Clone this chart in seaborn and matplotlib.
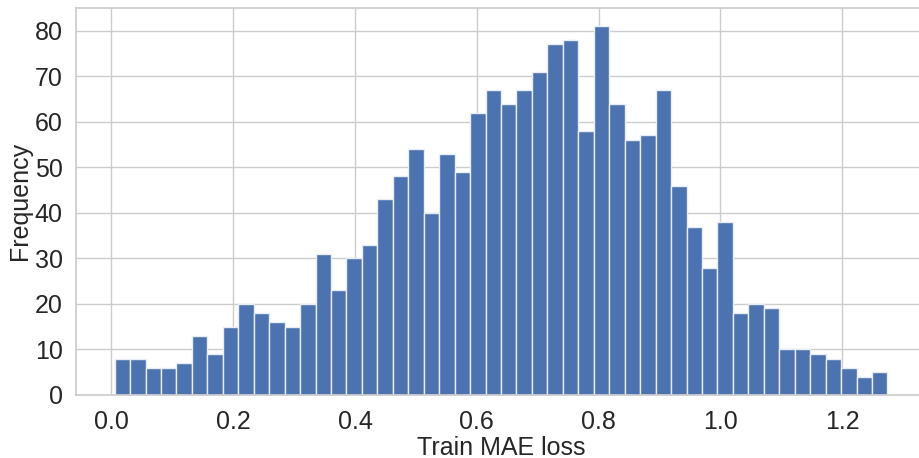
import numpy as np
import pandas as pd
import matplotlib
matplotlib.use("Agg")
import matplotlib.pyplot as plt
from matplotlib.ticker import MultipleLocator
import seaborn as sns

# Histogram of per-sample training MAE loss (50 equal-width bins)
counts = [8, 8, 6, 6, 7, 13, 9, 15, 20, 18,
          16, 15, 20, 31, 23, 30, 33, 43, 48, 54,
          40, 53, 49, 62, 67, 64, 67, 71, 77, 78,
          58, 81, 64, 56, 57, 67, 46, 37, 28, 38,
          18, 20, 19, 10, 10, 9, 8, 6, 4, 5]
loss_min = 0.0054
loss_max = 1.2742
x_ticks = [0.0, 0.2, 0.4, 0.6, 0.8, 1.0, 1.2]
y_step = 10
x_label = "Train MAE loss"
y_label = "Frequency"

edges = np.linspace(loss_min, loss_max, len(counts) + 1)
centers = (edges[:-1] + edges[1:]) / 2
df = pd.DataFrame({"loss": centers, "count": counts})

sns.set_theme(style="whitegrid")
plt.rcParams["font.family"] = ["Liberation Sans", "DejaVu Sans"]

fig = plt.figure(figsize=(9.2, 4.58), dpi=100)
ax = fig.add_axes([0.0826, 0.1376, 0.924, 0.8454])

sns.histplot(data=df, x="loss", weights="count", bins=len(counts),
             binrange=(loss_min, loss_max),
             color="#4C72B0", alpha=1.0, edgecolor="#e8ecf4",
             linewidth=1.0, ax=ax)

ax.set_xticks(x_ticks)
ax.set_xticklabels([f"{t:.1f}" for t in x_ticks])
ax.yaxis.set_major_locator(MultipleLocator(y_step))
ax.set_xlabel(x_label, fontsize=18, labelpad=1)
ax.set_ylabel(y_label, fontsize=18, labelpad=2)
ax.tick_params(axis="both", labelsize=18, colors=".15")
ax.tick_params(axis="x", pad=5)
ax.margins(x=0.05)

fig.savefig("out.png", dpi=100)
